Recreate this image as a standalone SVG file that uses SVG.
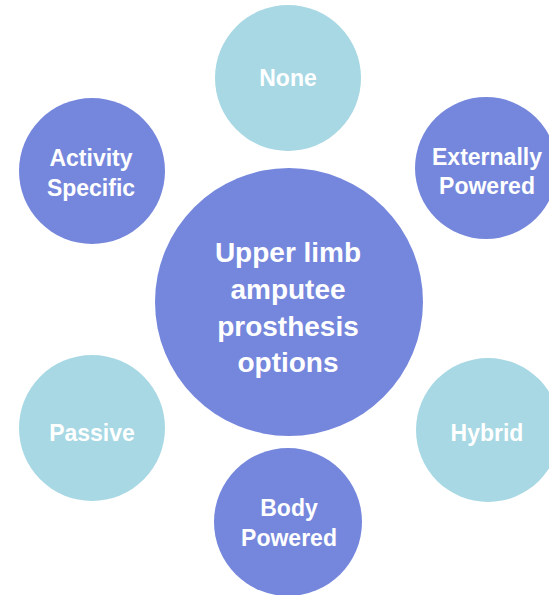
<svg xmlns="http://www.w3.org/2000/svg" width="549" height="595" viewBox="0 0 549 595">
<style>
.dark{fill:#7587dc}
.light{fill:#a7d8e4}
text{font-family:"Liberation Sans",Arial,sans-serif;font-weight:700;fill:#ffffff;text-anchor:middle}
.s{font-size:23px}
.c{font-size:28px}
</style>
<rect width="549" height="595" fill="#ffffff"/>
<g id="connectors"/>
<g id="node-none">
<circle class="light" cx="288" cy="78" r="73"/>
<text class="s" x="288" y="86">None</text>
</g>
<g id="node-externally-powered">
<circle class="dark" cx="486" cy="168" r="71"/>
<text class="s" x="487" y="165">Externally</text>
<text class="s" x="487" y="194">Powered</text>
</g>
<g id="node-activity-specific">
<circle class="dark" cx="92" cy="171" r="73"/>
<text class="s" x="91" y="166">Activity</text>
<text class="s" x="91" y="196">Specific</text>
</g>
<g id="node-center">
<circle class="dark" cx="289" cy="302" r="134"/>
<text class="c" x="288" y="262">Upper limb</text>
<text class="c" x="288" y="299">amputee</text>
<text class="c" x="288" y="336">prosthesis</text>
<text class="c" x="288" y="372">options</text>
</g>
<g id="node-passive">
<circle class="light" cx="92" cy="428" r="73"/>
<text class="s" x="92" y="441">Passive</text>
</g>
<g id="node-hybrid">
<circle class="light" cx="488" cy="430" r="72"/>
<text class="s" x="487" y="441">Hybrid</text>
</g>
<g id="node-body-powered">
<circle class="dark" cx="288" cy="522" r="74"/>
<text class="s" x="289" y="516">Body</text>
<text class="s" x="289" y="546">Powered</text>
</g>
</svg>
